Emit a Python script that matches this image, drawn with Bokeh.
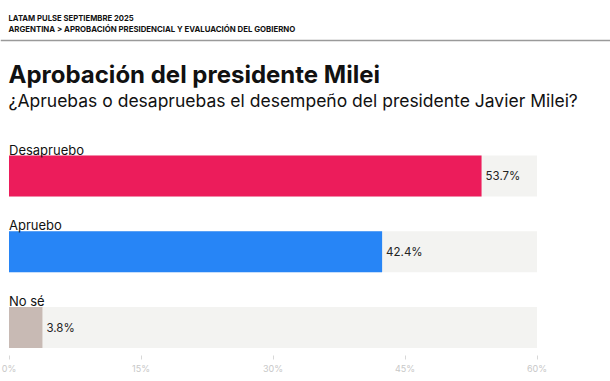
from bokeh.plotting import figure
from bokeh.models import Range1d, FixedTicker, LinearAxis, ColumnDataSource, Span, Label
from bokeh.embed import file_html
from bokeh.resources import INLINE
from bokeh.core.properties import value

categories = ["Desapruebo", "Apruebo", "No sé"]
values = [53.7, 42.4, 3.8]
colors = ["#EC1C5B", "#2785F6", "#C8BAB4"]
ticks = [0, 15, 30, 45, 60]
tick_labels = ["0%", "15%", "30%", "45%", "60%"]
axis_max = 60

supertitle1 = "LATAM PULSE SEPTIEMBRE 2025"
supertitle2 = "ARGENTINA > APROBACIÓN PRESIDENCIAL Y EVALUACIÓN DEL GOBIERNO"
title = "Aprobación del presidente Milei"
subtitle = "¿Apruebas o desapruebas el desempeño del presidente Javier Milei?"

W, H = 610, 381
B = 26
FH = H - B
px_per = 8.8
left_px = 8.5
x0 = -left_px / px_per
x1 = x0 + W / px_per

p = figure(width=W, height=H, output_backend="svg", toolbar_location=None,
           x_range=Range1d(x0, x1), y_range=Range1d(FH, 0),
           min_border_left=0, min_border_right=0, min_border_top=0, min_border_bottom=B,
           x_axis_location=None, y_axis_location=None)
p.grid.visible = False
p.outline_line_color = None
p.background_fill_color = "white"
p.border_fill_color = "white"

bar_h = 41
centers = [175.5 + i * 75.75 for i in range(len(categories))]
label_y = [c - 26.5 for c in centers]

src = ColumnDataSource(dict(cat=categories, val=values, col=colors, y=centers,
                            ly=label_y, bg=[axis_max] * len(values),
                            txt=[f"{v:.1f}%" for v in values]))

p.hbar(y="y", left=0, right="bg", height=bar_h, source=src, color="#F3F3F1", line_color=None)
p.hbar(y="y", left=0, right="val", height=bar_h, source=src, color="col", line_color=None)
p.text(x=0, y="ly", text="cat", source=src, text_font=value("Inter"), text_font_size="13px",
       text_color="#111111", text_baseline="alphabetic", text_align="left")
p.text(x="val", y="y", text="txt", source=src, text_font=value("Inter"), text_font_size="11.5px",
       text_color="#222222", text_baseline="middle", text_align="left", x_offset=4)

ax = LinearAxis(ticker=FixedTicker(ticks=ticks),
                major_label_overrides={t: l for t, l in zip(ticks, tick_labels)})
ax.axis_line_color = None
ax.major_tick_in = 0
ax.major_tick_out = 4
ax.minor_tick_line_color = None
ax.major_tick_line_color = "#D8D8D8"
ax.major_label_text_color = "#C8C8C8"
ax.major_label_text_font = "Inter"
ax.major_label_text_font_size = "9px"
ax.major_label_standoff = 3
p.add_layout(ax, "below")

p.add_layout(Span(location=40, dimension="width", line_color="#9A9A9A", line_width=1.5))

for txt, y, size, style in [
    (supertitle1, 17.5, "7.7px", "bold"),
    (supertitle2, 28.5, "7.8px", "bold"),
    (title, 74, "24px", "bold"),
    (subtitle, 99.5, "17.5px", "normal"),
]:
    p.add_layout(Label(x=x0 + 8 / px_per, y=y, text=txt, text_font="Inter", text_font_size=size,
                       text_font_style=style, text_color="#111111",
                       text_baseline="alphabetic", text_align="left"))

open("out.html", "w").write(file_html(p, INLINE))
